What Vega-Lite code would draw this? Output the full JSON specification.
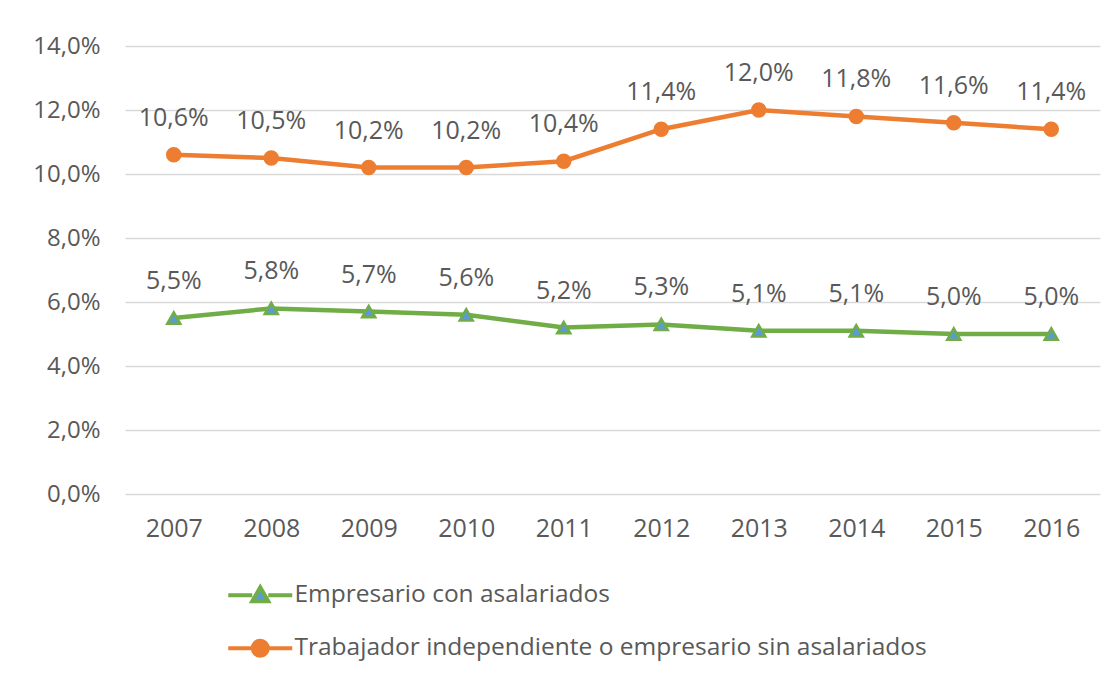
{
  "$schema": "https://vega.github.io/schema/vega-lite/v6.json",
  "width": 975,
  "height": 448,
  "autosize": {"type": "none"},
  "padding": {"left": 125, "top": 46, "right": 19, "bottom": 184},
  "background": "white",
  "config": {
    "locale": {"number": {"decimal": ",", "thousands": ".", "grouping": [3], "currency": ["", " €"]}},
    "font": "Open Sans",
    "view": {"stroke": null},
    "axis": {"labelColor": "#595959", "ticks": false, "domain": false, "title": null}
  },
  "data": {
    "values": [
      {"year": "2007", "series": "Empresario con asalariados", "value": 0.055},
      {"year": "2008", "series": "Empresario con asalariados", "value": 0.058},
      {"year": "2009", "series": "Empresario con asalariados", "value": 0.057},
      {"year": "2010", "series": "Empresario con asalariados", "value": 0.056},
      {"year": "2011", "series": "Empresario con asalariados", "value": 0.052},
      {"year": "2012", "series": "Empresario con asalariados", "value": 0.053},
      {"year": "2013", "series": "Empresario con asalariados", "value": 0.051},
      {"year": "2014", "series": "Empresario con asalariados", "value": 0.051},
      {"year": "2015", "series": "Empresario con asalariados", "value": 0.050},
      {"year": "2016", "series": "Empresario con asalariados", "value": 0.050},
      {"year": "2007", "series": "Trabajador independiente o empresario sin asalariados", "value": 0.106},
      {"year": "2008", "series": "Trabajador independiente o empresario sin asalariados", "value": 0.105},
      {"year": "2009", "series": "Trabajador independiente o empresario sin asalariados", "value": 0.102},
      {"year": "2010", "series": "Trabajador independiente o empresario sin asalariados", "value": 0.102},
      {"year": "2011", "series": "Trabajador independiente o empresario sin asalariados", "value": 0.104},
      {"year": "2012", "series": "Trabajador independiente o empresario sin asalariados", "value": 0.114},
      {"year": "2013", "series": "Trabajador independiente o empresario sin asalariados", "value": 0.120},
      {"year": "2014", "series": "Trabajador independiente o empresario sin asalariados", "value": 0.118},
      {"year": "2015", "series": "Trabajador independiente o empresario sin asalariados", "value": 0.116},
      {"year": "2016", "series": "Trabajador independiente o empresario sin asalariados", "value": 0.114}
    ]
  },
  "encoding": {
    "x": {"field": "year", "type": "ordinal", "axis": {"labelAngle": 0, "labelPadding": 22, "grid": false, "labelFontSize": 25}},
    "y": {"field": "value", "type": "quantitative", "scale": {"domain": [0, 0.14]},
      "axis": {"values": [0, 0.02, 0.04, 0.06, 0.08, 0.1, 0.12, 0.14], "format": ".1%", "labelPadding": 25, "labelFontSize": 24, "grid": true, "gridColor": "#D9D9D9", "gridWidth": 1.5}}
  },
  "layer": [
    {
      "mark": {"type": "line", "strokeWidth": 4.5},
      "encoding": {
        "color": {"field": "series", "type": "nominal",
          "scale": {"domain": ["Empresario con asalariados", "Trabajador independiente o empresario sin asalariados"], "range": ["#70AD47", "#ED7D31"]},
          "legend": {
            "orient": "none", "legendX": 123, "legendY": 537, "direction": "vertical", "title": null,
            "symbolSize": 400, "labelFontSize": 24.5, "labelLimit": 900, "labelColor": "#595959", "labelOffset": 22, "rowPadding": 22,
            "encode": {
              "symbols": {"update": {
                "shape": {"signal": "datum.value == 'Empresario con asalariados' ? 'M-3.2,0H-0.8M0.8,0H3.2M-0.8,0.6L0,-0.8L0.8,0.6Z' : 'M-3.2,0H-0.75M0.75,0H3.2M-0.75,0A0.75,0.75 0 1,0 0.75,0A0.75,0.75 0 1,0 -0.75,0Z'"},
                "fill": {"signal": "datum.value == 'Empresario con asalariados' ? '#5B9BD5' : '#ED7D31'"},
                "stroke": {"signal": "datum.value == 'Empresario con asalariados' ? '#70AD47' : '#ED7D31'"},
                "strokeWidth": {"value": 4},
                "opacity": {"value": 1},
                "fillOpacity": {"value": 1}
              }}
            }
          }
        }
      }
    },
    {
      "mark": {"type": "point", "filled": false, "fillOpacity": 1, "opacity": 1, "strokeWidth": 2.5, "size": 170},
      "encoding": {
        "color": {"field": "series", "type": "nominal"},
        "fill": {"condition": {"test": "datum.series == 'Empresario con asalariados'", "value": "#5B9BD5"}, "value": "#ED7D31"},
        "shape": {"condition": {"test": "datum.series == 'Empresario con asalariados'", "value": "triangle-up"}, "value": "circle"}
      }
    },
    {
      "mark": {"type": "text", "dy": -37, "fontSize": 25, "color": "#595959", "baseline": "middle"},
      "encoding": {
        "text": {"field": "value", "type": "quantitative", "format": ".1%"}
      }
    }
  ]
}
